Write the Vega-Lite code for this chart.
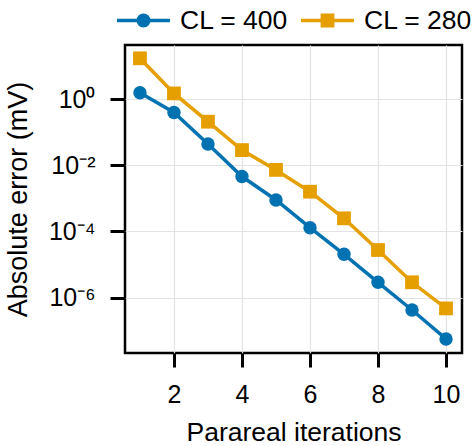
{
  "$schema": "https://vega.github.io/schema/vega-lite/v6.json",
  "autosize": "none",
  "width": 337,
  "height": 308,
  "padding": {"left": 125, "top": 45, "right": 13, "bottom": 93},
  "config": {
    "font": "Liberation Sans",
    "view": {"stroke": "black", "strokeWidth": 2.5},
    "axis": {
      "domain": false,
      "grid": true,
      "gridColor": "#e3e3e3",
      "gridWidth": 1.2,
      "tickColor": "black",
      "tickWidth": 3,
      "labelFont": "Liberation Sans",
      "labelFontSize": 25,
      "labelColor": "black",
      "titleFont": "Liberation Sans",
      "titleFontSize": 26.5,
      "titleFontWeight": "normal",
      "titleColor": "black"
    }
  },
  "data": {
    "values": [
      {"iter": 1, "err": 1.58, "series": "CL = 400"},
      {"iter": 2, "err": 0.40, "series": "CL = 400"},
      {"iter": 3, "err": 0.0444, "series": "CL = 400"},
      {"iter": 4, "err": 0.0046, "series": "CL = 400"},
      {"iter": 5, "err": 0.0009, "series": "CL = 400"},
      {"iter": 6, "err": 0.00013, "series": "CL = 400"},
      {"iter": 7, "err": 0.0000204, "series": "CL = 400"},
      {"iter": 8, "err": 0.0000029, "series": "CL = 400"},
      {"iter": 9, "err": 0.00000042, "series": "CL = 400"},
      {"iter": 10, "err": 0.000000056, "series": "CL = 400"},
      {"iter": 1, "err": 17.4, "series": "CL = 280"},
      {"iter": 2, "err": 1.51, "series": "CL = 280"},
      {"iter": 3, "err": 0.21, "series": "CL = 280"},
      {"iter": 4, "err": 0.029, "series": "CL = 280"},
      {"iter": 5, "err": 0.0073, "series": "CL = 280"},
      {"iter": 6, "err": 0.0016, "series": "CL = 280"},
      {"iter": 7, "err": 0.00025, "series": "CL = 280"},
      {"iter": 8, "err": 0.0000275, "series": "CL = 280"},
      {"iter": 9, "err": 0.0000029, "series": "CL = 280"},
      {"iter": 10, "err": 0.00000047, "series": "CL = 280"}
    ]
  },
  "encoding": {
    "x": {
      "field": "iter", "type": "quantitative",
      "scale": {"domain": [0.56, 10.47], "nice": false, "zero": false},
      "axis": {"values": [2, 4, 6, 8, 10], "tickSize": 14, "labelPadding": 15, "title": "Parareal iterations", "titlePadding": 12}
    },
    "y": {
      "field": "err", "type": "quantitative",
      "scale": {"type": "log", "domain": [2.1e-8, 44], "nice": false},
      "axis": {
        "values": [1, 0.01, 0.0001, 0.000001],
        "tickSize": 15,
        "labelPadding": 15,
        "labelExpr": "datum.value >= 0.5 ? '10⁰' : datum.value >= 0.005 ? '10⁻²' : datum.value >= 0.00005 ? '10⁻⁴' : '10⁻⁶'",
        "title": "Absolute error (mV)",
        "titleFontSize": 27,
        "titlePadding": 16
      }
    },
    "color": {
      "field": "series", "type": "nominal",
      "scale": {"domain": ["CL = 400", "CL = 280"], "range": ["#0072B2", "#E69F00"]},
      "legend": {
        "title": null,
        "orient": "none",
        "direction": "horizontal",
        "legendX": -10,
        "legendY": -53,
        "padding": 0,
        "symbolSize": 2809,
        "symbolStrokeWidth": 3.5,
        "labelFontSize": 26.5,
        "labelFont": "Liberation Sans",
        "labelColor": "black",
        "labelOffset": 8,
        "columnPadding": 5,
        "encode": {
          "symbols": {
            "update": {
              "shape": {"signal": "datum.value === 'CL = 400' ? 'M-1,0H1M-0.2,0A0.2,0.2,0,1,1,0.2,0A0.2,0.2,0,1,1,-0.2,0Z' : 'M-1,0H1M-0.194,-0.194H0.194V0.194H-0.194Z'"},
              "fill": {"signal": "datum.value === 'CL = 400' ? '#0072B2' : '#E69F00'"},
              "stroke": {"signal": "datum.value === 'CL = 400' ? '#0072B2' : '#E69F00'"},
              "strokeWidth": {"value": 3.5},
              "opacity": {"value": 1},
              "fillOpacity": {"value": 1}
            }
          }
        }
      }
    }
  },
  "layer": [
    {"mark": {"type": "line", "strokeWidth": 3.5}},
    {
      "transform": [{"filter": "datum.series === 'CL = 400'"}],
      "mark": {"type": "point", "filled": true, "opacity": 1, "shape": "circle", "size": 180}
    },
    {
      "transform": [{"filter": "datum.series === 'CL = 280'"}],
      "mark": {"type": "point", "filled": true, "opacity": 1, "shape": "square", "size": 190}
    }
  ]
}
